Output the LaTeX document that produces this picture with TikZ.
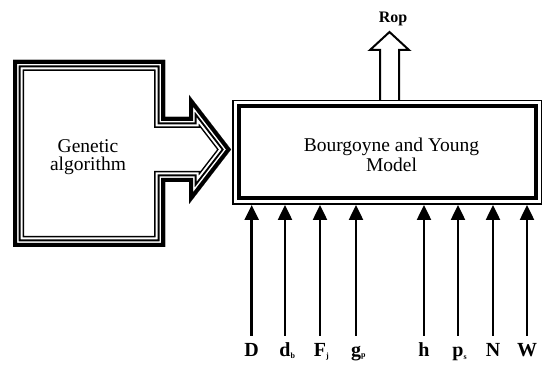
\documentclass[tikz,border=0pt]{standalone}
\usepackage{fontspec}
\setmainfont{Liberation Serif}
\usetikzlibrary{arrows.meta}
\begin{document}
\begin{tikzpicture}[x=1pt,y=-1pt,
  boxtext/.style={font=\fontsize{19.5}{20}\selectfont, align=center, inner sep=0pt},
  lbl/.style={font=\bfseries\fontsize{20}{20}\selectfont, anchor=base, inner sep=0pt},
  inarrow/.style={line width=2.5pt, -{Triangle[width=14pt,length=15pt]}},
  outline/.style={line width=2pt, line join=miter},
  ]
\useasboundingbox (0,0) rectangle (542,366);
% Genetic algorithm block arrow with triple border
\begin{scope}
  \clip (13,60) -- (165,60) -- (165,117) -- (189,117) -- (189,95) -- (231,149.5) -- (189,204) -- (189,182) -- (165,182) -- (165,247) -- (13,247) -- cycle;
  \foreach \w/\c in {22/black,19/white,15/black,11/white,8/black}{
    \draw[line width=\w pt, draw=\c, line join=miter, miter limit=20]
      (13,60) -- (165,60) -- (165,117) -- (189,117) -- (189,95) -- (231,149.5) -- (189,204) -- (189,182) -- (165,182) -- (165,247) -- (13,247) -- cycle;
  }
\end{scope}
\node[font=\fontsize{19.5}{18}\selectfont, align=center, inner sep=0pt] (ga) at (88,157) {Genetic\\algorithm};
% Bourgoyne and Young model box
\node[draw, line width=1.5pt, minimum width=308.5pt, minimum height=103.5pt, inner sep=0pt] (bymo) at (387,152.5) {};
\node[draw, line width=4pt, minimum width=297pt, minimum height=92pt, inner sep=0pt] (bym) at (387,152.5) {};
\node[boxtext] (bymt) at (391.5,154.5) {Bourgoyne and Young\\Model};
% Rop output arrow
\draw[outline] (380,100) -- (380,50) -- (370,50) -- (389.5,32) -- (409,50) -- (399,50) -- (399,100);
\node[font=\bfseries\fontsize{16}{16}\selectfont, anchor=base, inner sep=0pt] (rop) at (393,23) {Rop};
% inputs
\foreach \n/\x/\t in {
  D/251.7/{D},
  db/285/{d\rlap{\raisebox{-2pt}{\fontsize{8}{8}\selectfont b}}},
  Fj/320/{F\rlap{\raisebox{-2pt}{\fontsize{8}{8}\selectfont j}}},
  gp/356/{g\rlap{\raisebox{-1pt}{\fontsize{8}{8}\selectfont p}}},
  h/424/{h},
  ps/458/{p\rlap{\raisebox{-3pt}{\fontsize{8}{8}\selectfont s}}},
  N/493/{N},
  W/527/{W}}{
  \node[lbl] (l\n) at (\x,357) {\t};
  \coordinate (s\n) at (\x,336);
  \draw[inarrow] (s\n) -- (s\n |- bymo.south);
}
\end{tikzpicture}
\end{document}
